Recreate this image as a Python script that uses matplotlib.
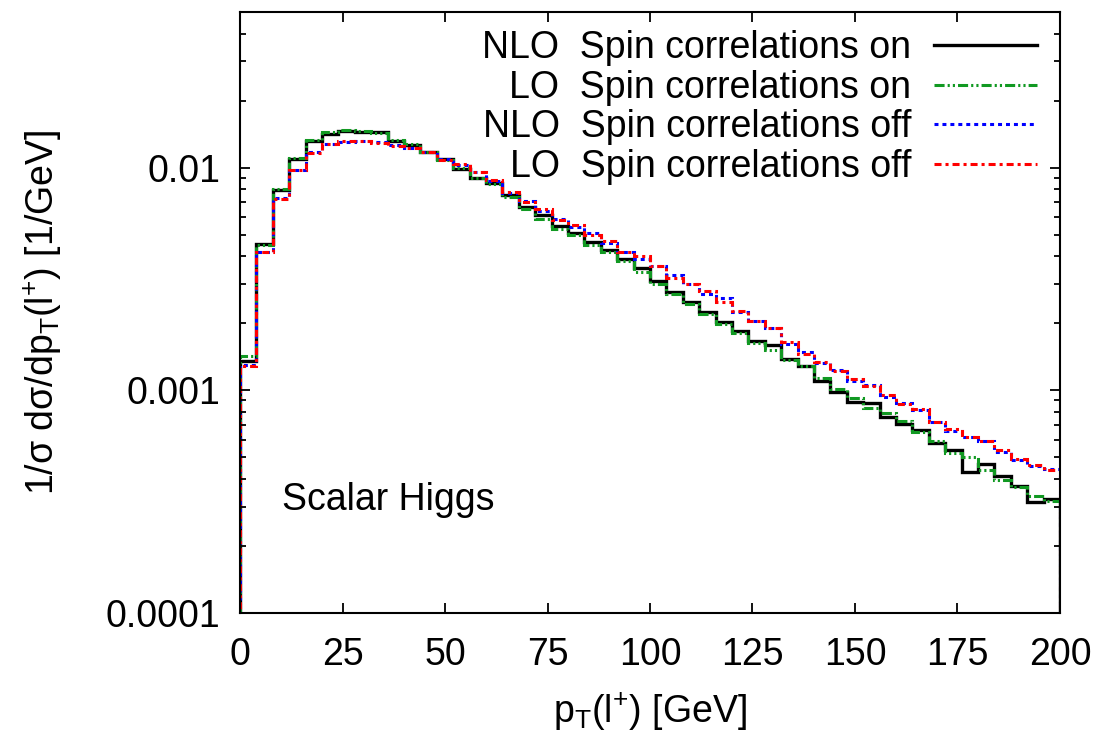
import numpy as np
import matplotlib
matplotlib.use("Agg")
import matplotlib.pyplot as plt
from matplotlib.ticker import FixedLocator, LogLocator, NullFormatter

plt.rcParams['font.family'] = ['Liberation Sans', 'DejaVu Sans']
plt.rcParams['mathtext.fontset'] = 'custom'
plt.rcParams['mathtext.rm'] = 'Liberation Sans'

# bin edges of the pT(l+) histogram [GeV]
edges = np.arange(0, 204, 4)

nlo_on = [0.00135, 0.00456, 0.0079, 0.0109, 0.0132, 0.0142, 0.0146, 0.0145, 0.0144, 0.0131,
          0.0126, 0.0117, 0.0109, 0.0099, 0.0090, 0.0085, 0.00751, 0.00667, 0.00611, 0.00548,
          0.00511, 0.00465, 0.00426, 0.00388, 0.00355, 0.00309, 0.00277, 0.00248, 0.00225, 0.00203,
          0.00185, 0.00166, 0.00159, 0.00138, 0.00129, 0.00110, 0.000987, 0.00089, 0.000875, 0.000762,
          0.000706, 0.000664, 0.000578, 0.000537, 0.000431, 0.000467, 0.000413, 0.00037, 0.000315, 0.000326]

lo_on = [0.00142, 0.00447, 0.0080, 0.0110, 0.0133, 0.0144, 0.0147, 0.0146, 0.0143, 0.0133,
         0.0127, 0.0118, 0.0108, 0.0100, 0.0090, 0.0084, 0.0074, 0.0065, 0.0059, 0.0053,
         0.0050, 0.0045, 0.0042, 0.0038, 0.0034, 0.0030, 0.0027, 0.00245, 0.0022, 0.00198,
         0.0018, 0.00163, 0.00152, 0.00137, 0.00128, 0.00113, 0.00101, 0.000927, 0.000836, 0.000794,
         0.000728, 0.000649, 0.000589, 0.000522, 0.000501, 0.000437, 0.000396, 0.000366, 0.000334, 0.000317]

nlo_off = [0.0013, 0.0042, 0.0073, 0.0098, 0.0117, 0.0128, 0.0130, 0.0131, 0.0130, 0.0126,
           0.0123, 0.0117, 0.0109, 0.0103, 0.0096, 0.0087, 0.0077, 0.0071, 0.0064, 0.0059,
           0.0054, 0.0051, 0.0046, 0.0042, 0.0039, 0.0036, 0.0033, 0.0030, 0.0027, 0.0026,
           0.00225, 0.00204, 0.0019, 0.00161, 0.00148, 0.00132, 0.00123, 0.0011, 0.00106, 0.000937,
           0.000875, 0.000816, 0.000724, 0.000657, 0.000619, 0.000592, 0.000531, 0.000487, 0.000455, 0.000444]

lo_off = [0.00129, 0.0042, 0.0072, 0.0098, 0.0116, 0.0128, 0.0131, 0.0131, 0.0129, 0.0125,
          0.0123, 0.0118, 0.0108, 0.0104, 0.0096, 0.0088, 0.0078, 0.0070, 0.0065, 0.0058,
          0.0055, 0.0050, 0.0047, 0.0042, 0.0040, 0.0036, 0.0032, 0.0030, 0.0028, 0.0025,
          0.00228, 0.00205, 0.0019, 0.00165, 0.00146, 0.00134, 0.00122, 0.00112, 0.00104, 0.00095,
          0.00087, 0.00082, 0.00072, 0.00067, 0.00062, 0.00059, 0.00054, 0.00049, 0.00046, 0.00044]

labels = ['NLO  Spin correlations on', 'LO  Spin correlations on',
          'NLO  Spin correlations off', 'LO  Spin correlations off']
colors = ['black', '#119922', '#0000ff', '#ff0000']
styles = ['-', (0, (3.3, 1, 0.7, 1, 0.7, 1)), (0, (1.3, 1.3)), (0, (2.3, 1.3, 1, 1.3))]
widths = [2.4, 2.2, 2.2, 2.2]

fig = plt.figure(figsize=(10.99, 7.34), dpi=100)
ax = fig.add_axes([0.2184, 0.1649, 0.7461, 0.8188])

handles = []
for vals, c, ls, lw in zip([nlo_on, lo_on, nlo_off, lo_off], colors, styles, widths):
    ax.stairs(vals, edges, baseline=1e-6, color=c, linestyle=ls, linewidth=lw)
    # empty line used only for the legend sample
    h, = ax.plot([], [], color=c, linestyle=ls, linewidth=lw)
    handles.append(h)

ax.set_yscale('log')
ax.set_xlim(0, 200)
ax.set_ylim(1e-4, 0.05)

ax.xaxis.set_major_locator(FixedLocator([0, 25, 50, 75, 100, 125, 150, 175, 200]))
ax.yaxis.set_major_locator(FixedLocator([1e-4, 1e-3, 1e-2]))
ax.set_yticklabels(['0.0001', '0.001', '0.01'])
ax.yaxis.set_minor_locator(LogLocator(base=10, subs=np.arange(2, 10)))
ax.yaxis.set_minor_formatter(NullFormatter())
ax.tick_params(which='both', direction='in', top=True, right=True, labelsize=27, width=1.3)
ax.tick_params(which='major', length=7.5)
ax.tick_params(which='minor', length=4.5)
ax.tick_params(axis='x', which='major', pad=17)
ax.tick_params(axis='y', which='major', pad=14)
for s in ax.spines.values():
    s.set_linewidth(1.5)

ax.set_xlabel(r'p$_\mathregular{T}$(l$^\mathregular{+}$) [GeV]', fontsize=27, labelpad=13)
ax.set_ylabel(r'1/σ dσ/dp$_\mathregular{T}$(l$^\mathregular{+}$) [1/GeV]', fontsize=27, labelpad=30)

ax.text(0.051, 0.188, 'Scalar Higgs', transform=ax.transAxes, fontsize=27,
        ha='left', va='center')

ax.legend(handles, labels, loc='upper right', bbox_to_anchor=(0.972, 0.970),
          frameon=False, markerfirst=False, fontsize=27, handlelength=2.75,
          handletextpad=0.6, labelspacing=0.1, borderaxespad=0.0, borderpad=0.0)

fig.savefig('out.png', dpi=100)
